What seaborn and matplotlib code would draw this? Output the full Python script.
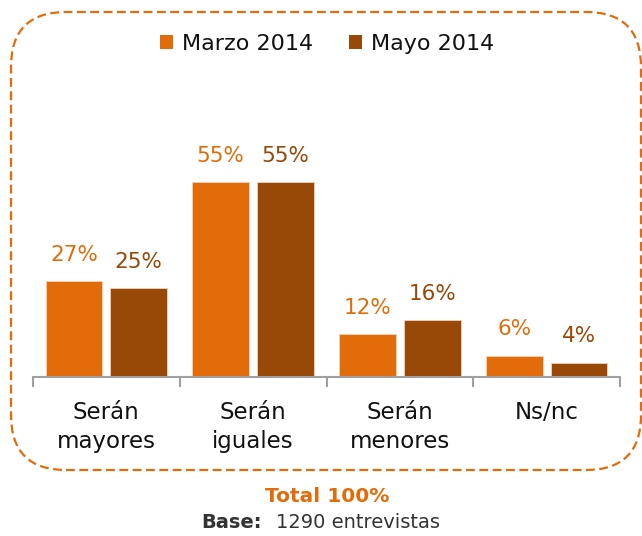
import matplotlib
matplotlib.use("Agg")
import matplotlib.pyplot as plt
from matplotlib.patches import FancyBboxPatch, Patch
from matplotlib.ticker import FixedLocator
import seaborn as sns
import pandas as pd

categories = ["Serán\nmayores", "Serán\niguales", "Serán\nmenores", "Ns/nc"]
series_names = ["Marzo 2014", "Mayo 2014"]
marzo = [27, 55, 12, 6]
mayo = [25, 55, 16, 4]
colors = ["#E36C0A", "#984807"]

df = pd.DataFrame({
    "categoria": categories * 2,
    "periodo": [series_names[0]] * 4 + [series_names[1]] * 4,
    "valor": marzo + mayo,
})

sns.set_theme(style="white")
plt.rcParams["font.family"] = ["DejaVu Sans"]

fig = plt.figure(figsize=(6.42, 5.36), dpi=100)
ax = fig.add_axes([33 / 642, 159 / 536, 587 / 642, 257 / 536])

sns.barplot(data=df, x="categoria", y="valor", hue="periodo",
            palette=colors, saturation=1, width=0.884, gap=0.123, ax=ax,
            edgecolor="#F4D2B8", linewidth=0.6, legend=False)

ax.set_xlim(-0.5, 3.5)
ax.set_ylim(0, 257 / 195 * 55)
ax.set_xlabel("")
ax.set_ylabel("")
ax.set_yticks([])
for side in ["top", "right", "left"]:
    ax.spines[side].set_visible(False)
ax.spines["bottom"].set_color("#A0A0A0")
ax.spines["bottom"].set_linewidth(1.5)
ax.xaxis.set_minor_locator(FixedLocator([-0.5, 0.5, 1.5, 2.5, 3.5]))
ax.tick_params(axis="x", which="minor", bottom=True, length=7, width=1.5,
               color="#A0A0A0", direction="out")
ax.tick_params(axis="x", which="major", length=0, pad=17, labelsize=16.5,
               labelcolor="#111111")
for lbl in ax.get_xticklabels():
    lbl.set_linespacing(1.35)

# value labels above every bar, coloured like their series
for container, color in zip(ax.containers, colors):
    for bar in container:
        h = bar.get_height()
        ax.annotate(f"{h:.0f}%", (bar.get_x() + bar.get_width() / 2, h),
                    xytext=(0, 19), textcoords="offset points",
                    ha="center", va="center", fontsize=15.5, color=color,
                    annotation_clip=False)

handles = [Patch(facecolor=c, edgecolor="none") for c in colors]
leg = fig.legend(handles, series_names, loc="center",
                 bbox_to_anchor=(327 / 642, 1 - 44 / 536),
                 ncol=2, frameon=False, fontsize=16, handlelength=0.6,
                 handleheight=0.6, handletextpad=0.4, columnspacing=1.6)
for t in leg.get_texts():
    t.set_color("#111111")

# dashed rounded frame around the chart
frame = FancyBboxPatch((0.11, 0.66), 6.30, 4.58,
                       boxstyle="round,pad=0,rounding_size=0.55",
                       transform=fig.dpi_scale_trans, fill=False,
                       edgecolor="#E36C0A", linewidth=1.6, linestyle=(0, (4, 2)))
fig.patches.append(frame)

fig.text(327 / 642, 1 - 496 / 536, "Total 100%", ha="center", va="center",
         fontsize=14.5, fontweight="bold", color="#E36C0A")
fig.text(262 / 642, 1 - 522 / 536, "Base:", ha="right", va="center",
         fontsize=14, fontweight="bold", color="#333333")
fig.text(276 / 642, 1 - 522 / 536, "1290 entrevistas", ha="left", va="center",
         fontsize=14, color="#333333")

fig.savefig("out.png", dpi=100)
